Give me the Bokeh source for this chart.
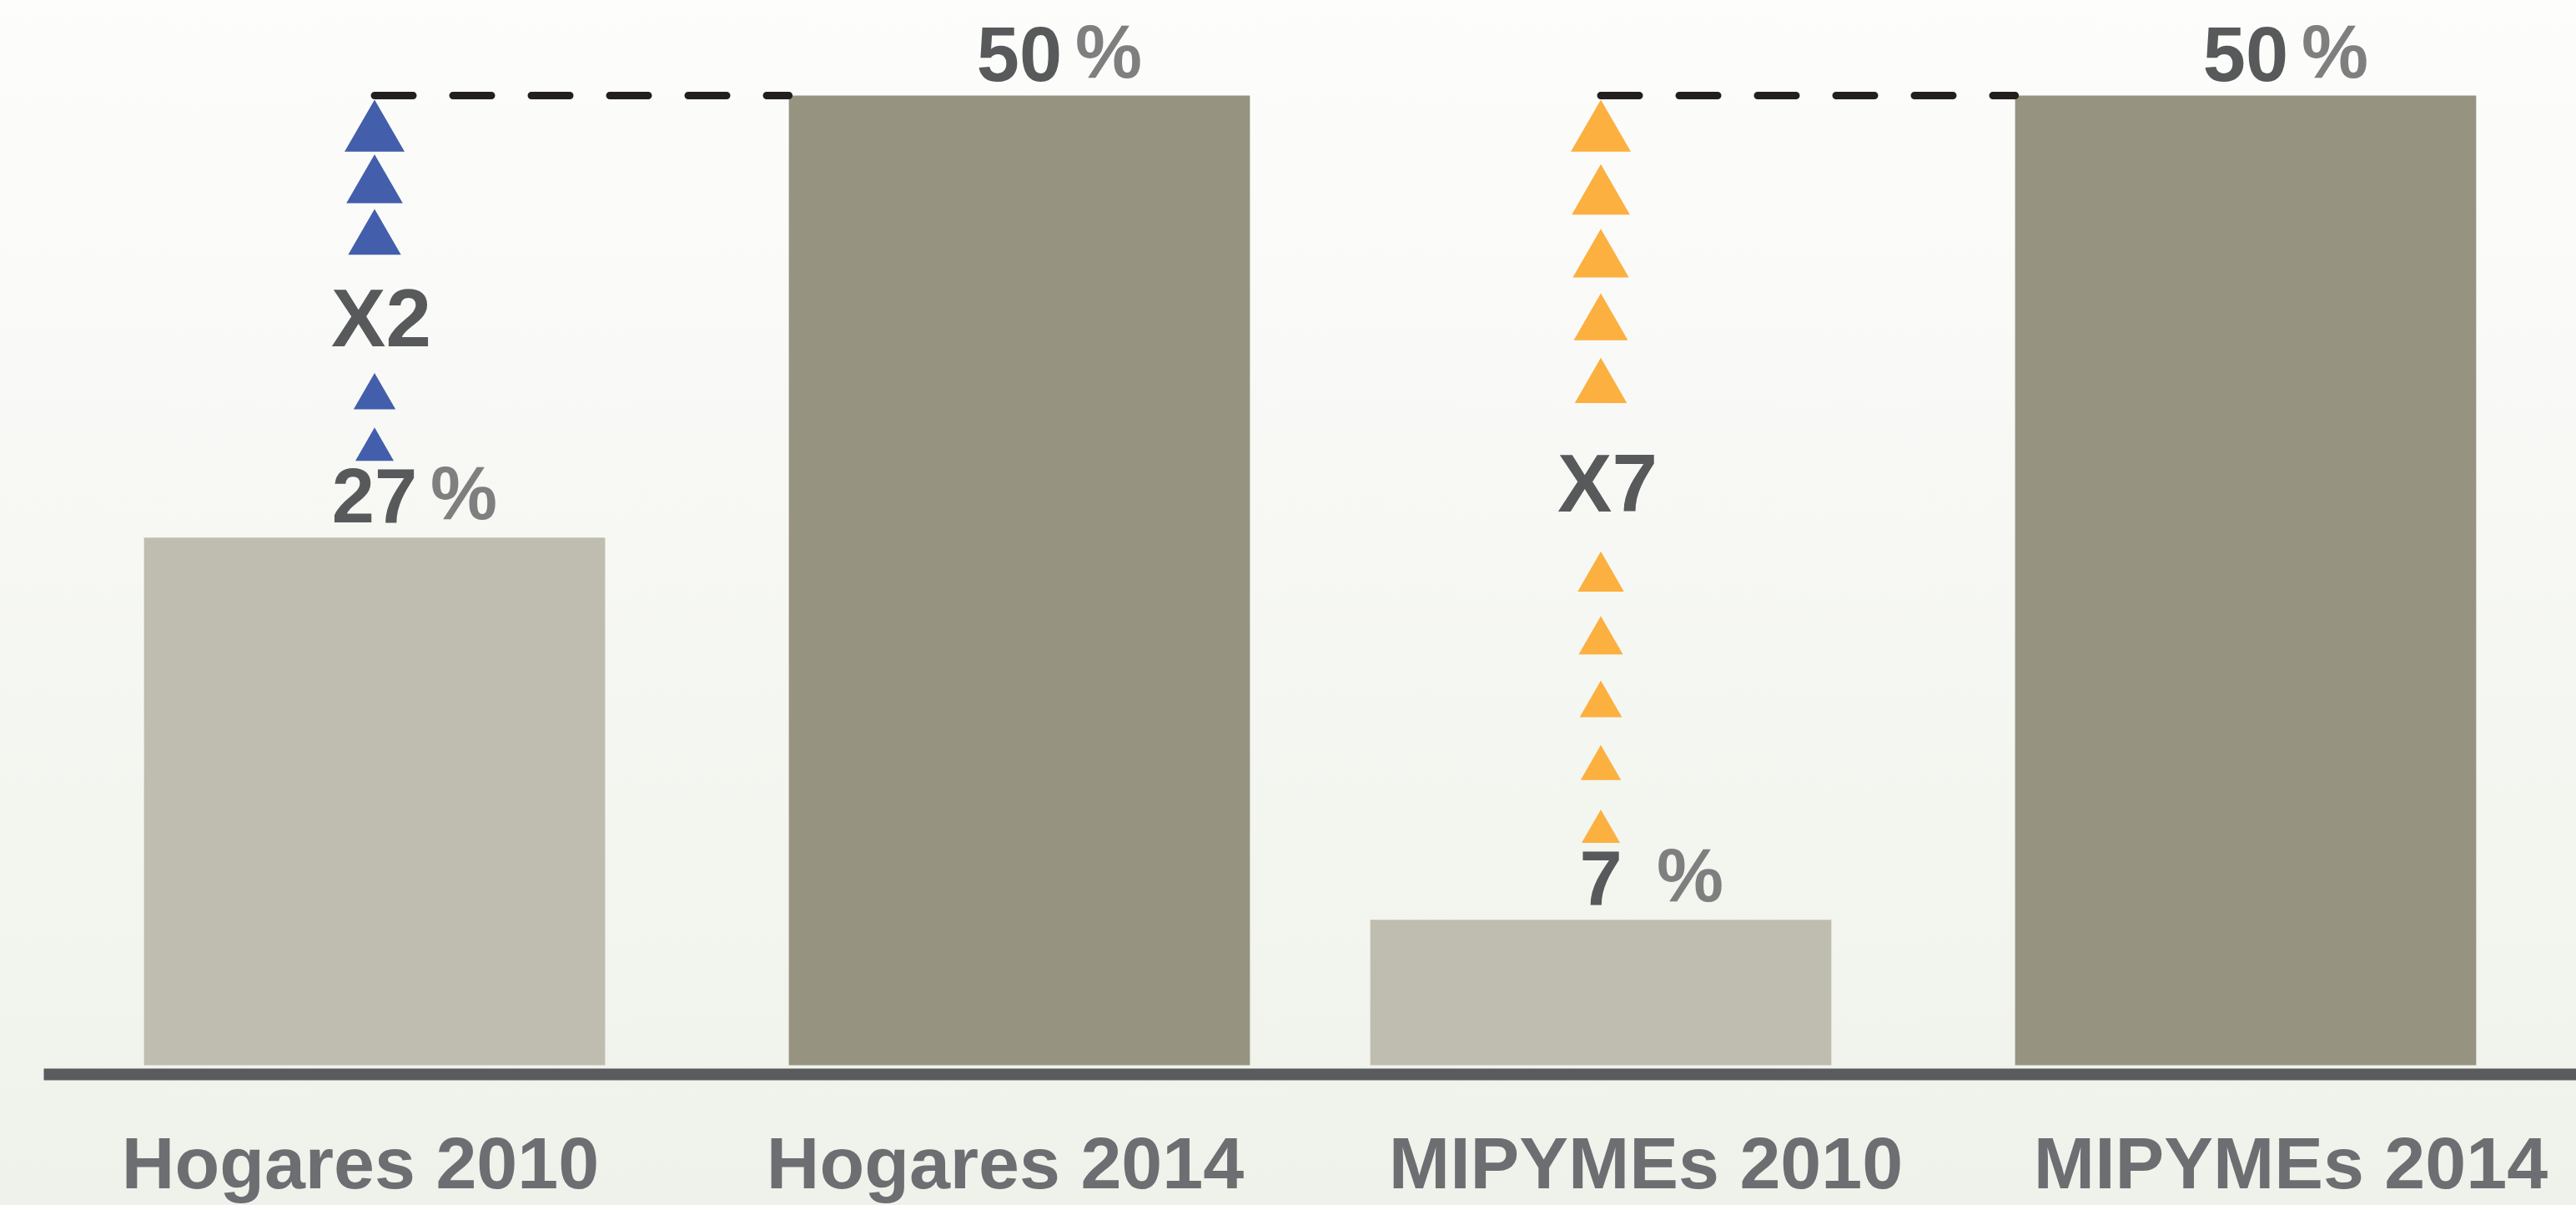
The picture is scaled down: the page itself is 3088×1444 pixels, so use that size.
from bokeh.plotting import figure
from bokeh.models import FactorRange, Range1d, Span, ColumnDataSource
from bokeh.core.properties import value
from bokeh.embed import file_html
from bokeh.resources import INLINE

# ---------------- data ----------------
groups = ["Hogares", "Hogares", "MIPYMEs", "MIPYMEs"]
categories = ["Hogares 2010", "Hogares 2014", "MIPYMEs 2010", "MIPYMEs 2014"]
shares = [27.2, 50.0, 7.5, 50.0]            # bar heights (%)
share_labels = ["27", "50", "7", "50"]       # printed values
multipliers = ["X2", "X7"]
comparisons = [(0, 1), (2, 3)]               # (2010 index, 2014 index)

# ---------------- layout / style ----------------
W, H = 3088, 1444
LEFT = 52
FP, GP, RP, BAR_W = 0.109, 0.0, 0.0689, 0.793
PPU = 23.24                                  # pixels per percentage point
Y_END = 1276 / PPU
Y_START = Y_END - H / PPU

def px(v):
    return v / PPU

LIGHT, DARK = "#BFBDB0", "#969480"
DIGIT_COL, PCT_COL, CAT_COL = "#58595B", "#7F7F7F", "#6D6E71"
ARROW_COLORS = ["#435EAB", "#FBB040"]
ARROW_SLOTS = [7, 12]       # triangle slots between the two values
TEXT_SLOT = [3, 5]          # first of the two slots used by the multiplier text
SANS = value("Liberation Sans")

factors = list(zip(groups, categories))

p = figure(width=W, height=H, output_backend="svg", toolbar_location=None,
           x_range=FactorRange(factors=factors, factor_padding=FP, group_padding=GP,
                               range_padding=RP, range_padding_units="absolute"),
           y_range=Range1d(Y_START, Y_END),
           x_axis_location=None, y_axis_location=None,
           min_border_left=LEFT, min_border_right=0, min_border_top=0, min_border_bottom=0)
p.border_fill_color = None
p.background_fill_color = None
p.outline_line_color = None
p.grid.visible = False
p.styles = {"background": "linear-gradient(#fdfdfc, #eff2ea)"}

# bars
bar_colors = [LIGHT if c.endswith("2010") else DARK for c in categories]
src = ColumnDataSource(dict(x=factors, top=shares, color=bar_colors))
p.vbar(x="x", top="top", bottom=0, width=BAR_W, fill_color="color", line_color=None, source=src)

# baseline
p.add_layout(Span(location=-px(11), dimension="width", line_color="#5A5B5D",
                  line_width=14, line_cap="round"))

# value labels (digits dark, % lighter)
p.text(x=factors, y=[v + px(50) for v in shares], text=share_labels,
       text_align="center", text_baseline="middle",
       text_font=SANS, text_font_style="bold", text_font_size="92px", text_color=DIGIT_COL)
p.text(x=factors, y=[v + px(53) for v in shares], text=["%" for _ in shares], x_offset=67,
       text_align="left", text_baseline="middle",
       text_font=SANS, text_font_style="bold", text_font_size="90px", text_color=PCT_COL)

# category labels
p.text(x=factors[:2], y=[-px(117)] * 2, text=categories[:2], text_align="center",
       text_baseline="middle", x_offset=-17,
       text_font=SANS, text_font_style="bold", text_font_size="88px", text_color=CAT_COL)
p.text(x=factors[2:], y=[-px(117)] * 2, text=categories[2:], text_align="center",
       text_baseline="middle", x_offset=54,
       text_font=SANS, text_font_style="bold", text_font_size="88px", text_color=CAT_COL)

# growth arrows, multiplier text and dashed reference lines
for k, (lo, hi) in enumerate(comparisons):
    low, high = shares[lo], shares[hi]
    first_apex = high - px(5)
    last_apex = low + px(132)
    n = ARROW_SLOTS[k]
    step = (first_apex - last_apex) / (n - 1)
    xs, ys, sizes, centers = [], [], [], []
    for s in range(n):
        size = 72 - 26 * s / (n - 1)
        cy = first_apex - s * step - px(size * 0.5774)
        centers.append(cy)
        if s in (TEXT_SLOT[k], TEXT_SLOT[k] + 1):
            continue
        xs.append(factors[lo]); ys.append(cy); sizes.append(size)
    p.scatter(x=xs, y=ys, size=sizes, marker="triangle", fill_color=ARROW_COLORS[k], line_color=None)
    ty = (centers[TEXT_SLOT[k]] + centers[TEXT_SLOT[k] + 1]) / 2
    p.text(x=[factors[lo]], y=[ty], text=[multipliers[k]], text_align="center", text_baseline="middle",
           x_offset=8, text_font=SANS, text_font_style="bold", text_font_size="98px",
           text_color=DIGIT_COL)
    p.segment(x0=[factors[lo]], y0=[high], x1=[factors[hi] + (-BAR_W / 2,)], y1=[high],
              line_color="#231F20", line_width=9, line_dash="46 48", line_cap="round")

html = file_html(p, INLINE, title="Hogares y MIPYMEs")
html = html.replace("<body>", '<body style="background: linear-gradient(#fdfdfc, #eff2ea);">', 1)
open("out.html", "w").write(html)
